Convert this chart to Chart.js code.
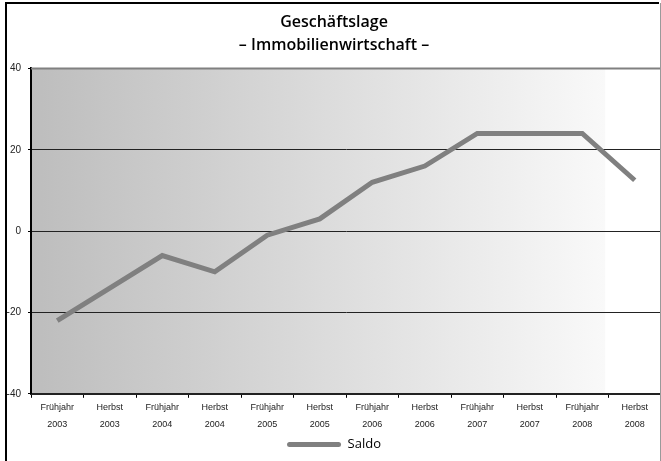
<!DOCTYPE html>
<html>
<head>
<meta charset="utf-8">
<script src="https://cdn.jsdelivr.net/npm/chart.js@4"></script>
<style>
  body { margin: 0; background: #fff; }
  #wrap { width: 661px; height: 461px; position: relative; }
</style>
</head>
<body>
<div id="wrap"><canvas id="chart"></canvas></div>
<script>
// Werte
const periods = ['Frühjahr', 'Herbst', 'Frühjahr', 'Herbst', 'Frühjahr', 'Herbst',
  'Frühjahr', 'Herbst', 'Frühjahr', 'Herbst', 'Frühjahr', 'Herbst'];
const years = ['2003', '2003', '2004', '2004', '2005', '2005',
  '2006', '2006', '2007', '2007', '2008', '2008'];
const saldo = [-22, -14, -6, -10, -1, 3, 12, 16, 24, 24, 24, 12.5];
const yTicks = [-40, -20, 0, 20, 40];

const labels = periods.map((p, i) => [p, years[i]]);

// Hintergrund mit Verlauf und Rahmen
const framePlugin = {
  id: 'frame',
  beforeDraw(chart) {
    const { ctx, chartArea: a } = chart;
    const end = 605;
    const g = ctx.createLinearGradient(a.left, 0, a.right, 0);
    const stop = Math.min(1, (end - a.left) / (a.right - a.left));
    g.addColorStop(0, '#bdbdbd');
    g.addColorStop(stop, '#f9f9f9');
    g.addColorStop(Math.min(1, stop + 0.001), '#ffffff');
    g.addColorStop(1, '#ffffff');
    ctx.save();
    ctx.fillStyle = g;
    ctx.fillRect(a.left, a.top, a.right - a.left, a.bottom - a.top);
    ctx.restore();
  },
  afterDraw(chart) {
    const { ctx, chartArea: a } = chart;
    ctx.save();
    // obere Kante des Diagrammbereichs
    ctx.strokeStyle = '#808080';
    ctx.lineWidth = 2;
    ctx.beginPath();
    ctx.moveTo(a.left, a.top);
    ctx.lineTo(a.right, a.top);
    ctx.stroke();
    // äußerer Rahmen
    ctx.strokeStyle = '#000';
    ctx.lineWidth = 2;
    ctx.beginPath();
    ctx.moveTo(6, 470);
    ctx.lineTo(6, 3);
    ctx.lineTo(659, 3);
    ctx.stroke();
    ctx.strokeStyle = '#9a9a9a';
    ctx.lineWidth = 1;
    ctx.beginPath();
    ctx.moveTo(660.5, 3);
    ctx.lineTo(660.5, 470);
    ctx.stroke();
    ctx.restore();
  }
};

new Chart(document.getElementById('chart'), {
  type: 'line',
  data: {
    labels: labels,
    datasets: [{
      label: 'Saldo',
      data: saldo,
      borderColor: '#808080',
      backgroundColor: '#808080',
      borderWidth: 5,
      pointRadius: 0,
      tension: 0,
      fill: false
    }]
  },
  options: {
    responsive: true,
    maintainAspectRatio: false,
    animation: false,
    layout: { padding: { left: 7, right: 0, top: 0, bottom: 0 } },
    plugins: {
      title: {
        display: true,
        text: ['Geschäftslage', '– Immobilienwirtschaft –'],
        color: '#000',
        font: { family: 'Open Sans', size: 16, weight: '600', lineHeight: 1.45 },
        padding: { top: 11, bottom: 11 }
      },
      legend: {
        position: 'bottom',
        labels: {
          color: '#000',
          font: { family: 'Open Sans', size: 13 },
          boxWidth: 54,
          boxHeight: 5,
          padding: 4,
          useBorderRadius: true,
          borderRadius: 2.5,
          generateLabels(chart) {
            return Chart.defaults.plugins.legend.labels.generateLabels(chart).map(item => {
              item.lineWidth = 0;
              item.fillStyle = '#808080';
              return item;
            });
          }
        }
      },
      tooltip: { enabled: false }
    },
    scales: {
      x: {
        offset: true,
        grid: {
          offset: true,
          drawOnChartArea: false,
          drawTicks: true,
          tickLength: 4,
          tickColor: '#000'
        },
        border: { color: '#222', width: 2 },
        ticks: {
          color: '#222',
          maxRotation: 0,
          autoSkip: false,
          padding: 1,
          font: { family: 'Liberation Sans', size: 9, lineHeight: 1.9 }
        }
      },
      y: {
        min: -40,
        max: 40,
        afterFit(scale) { scale.width = 24; },
        afterBuildTicks(scale) { scale.ticks = yTicks.map(v => ({ value: v })); },
        grid: {
          color: ctx => (ctx.tick && (ctx.tick.value === 40 || ctx.tick.value === -40)) ? 'rgba(0,0,0,0)' : '#222',
          lineWidth: 1,
          tickLength: 3,
          tickColor: '#000'
        },
        border: { color: '#000', width: 2 },
        ticks: {
          color: '#222',
          padding: 7,
          font: { family: 'Liberation Sans', size: 10 }
        }
      }
    }
  },
  plugins: [framePlugin]
});
</script>
</body>
</html>
